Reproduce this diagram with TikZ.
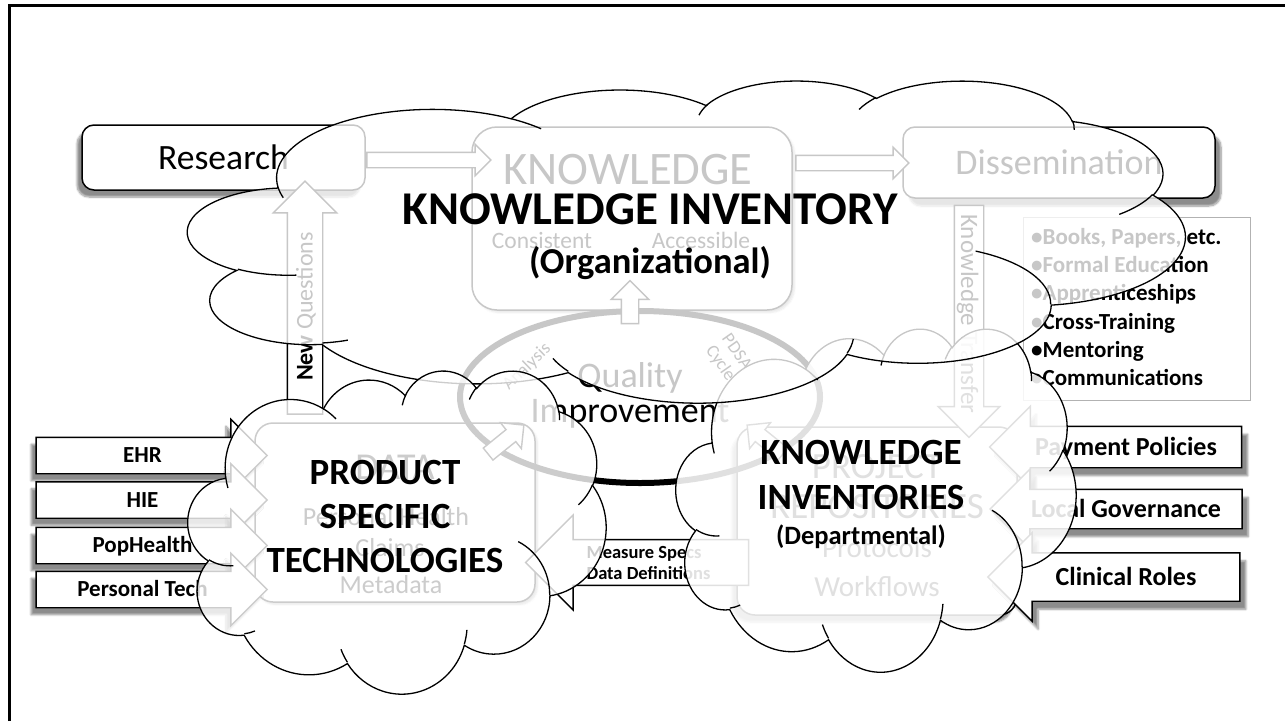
\documentclass[tikz,border=0pt]{standalone}
\usepackage{fontspec}
\setmainfont{Carlito}
\usetikzlibrary{shapes.arrows,shadows.blur}

\newcommand\fsz[2]{\fontsize{#1}{#2}\selectfont}

% one puff of the cloud: x radius, y radius, start angle, sweep (seen angles)
\newcommand\cldarc[4]{%
  \pgfextra{%
    \pgfmathsetmacro\cldS{atan2(#1*sin(#3),#2*cos(#3))}%
    \pgfmathsetmacro\cldE{atan2(#1*sin(#3+#4),#2*cos(#3+#4))}%
    \pgfmathsetmacro\cldE{\cldS+mod(\cldE-(\cldS)+720,360)}%
    \global\let\cldS\cldS\global\let\cldE\cldE}%
  arc[start angle=\cldS, end angle=\cldE, x radius=#1, y radius=#2]}

% cloud outline in a 432 x 432 box
\newcommand\cldoutline{%
  (39,143.7)
  \cldarc{67.53}{91.90}{-190.4875}{123.7805}
  \cldarc{53.33}{72.67}{-144.1024}{89.9452}
  \cldarc{43.65}{59.45}{-145.8079}{99.7230}
  \cldarc{48.57}{65.95}{-130.9861}{117.2417}
  \cldarc{53.33}{72.73}{-78.7089}{109.0269}
  \cldarc{67.75}{92.20}{-46.2673}{130.2690}
  \cldarc{57.85}{78.67}{0.6250}{114.0333}
  \cldarc{67.52}{92.15}{22.4516}{115.1726}
  \cldarc{77.20}{105.43}{66.2426}{75.7110}
  \cldarc{43.60}{59.18}{-274.9421}{146.7356}
  \cldarc{43.45}{59.45}{-246.8285}{152.5189}
  -- cycle}

% the small inner strokes
\newcommand\cldstubs{%
  (46.93,261.77) \cldarc{43.45}{59.45}{86.7420}{26.4295}
  (69.28,348.99) \cldarc{43.60}{59.18}{73.6105}{11.4475}
  (164.78,390.90) \cldarc{67.52}{92.15}{137.6242}{14.0811}
  (288.27,347.51) \cldarc{67.52}{92.15}{6.4533}{15.9984}
  (341.29,229.54) \cldarc{57.85}{78.67}{-70.2924}{70.9174}
  (417.98,153.54) \cldarc{53.33}{72.73}{30.3180}{27.7515}
  (383.24,54.26) \cldarc{48.57}{65.95}{-13.7443}{14.8589}
  (290.78,39.52) \cldarc{48.57}{65.95}{-149.1815}{18.1954}
  (221.41,47.20) \cldarc{43.65}{59.45}{-163.4943}{17.6864}
  (140.00,51.92) \cldarc{67.53}{91.90}{-66.7070}{12.3194}
  (41.27,157.89) \cldarc{67.53}{91.90}{157.6544}{11.8582}}

% name, left, top, width, height, fill opacity
\newcommand\pptcloud[6]{%
  \pgfmathsetmacro\cldw{#4/432}%
  \pgfmathsetmacro\cldh{#5/432}%
  \begin{scope}[xshift=#2pt, yshift=-#3pt, x=\cldw pt, y=-\cldh pt]
    \path[cloudline, fill=white, fill opacity=#6] \cldoutline;
    \path[cloudline] \cldstubs;
    \coordinate (#1) at (216,216);
  \end{scope}}

\begin{document}
\begin{tikzpicture}[x=1pt, y=-1pt,
    cloudline/.style={draw=black, line width=1.3pt},
    roundbox/.style={draw, fill=white, line width=1.5pt, rounded corners=12pt, inner sep=0pt},
    blockarrow/.style={single arrow, draw, fill=white, line width=1.4pt, inner sep=0pt,
                       single arrow head extend=#1},
    shaft/.style 2 args={text height=#1, text depth=#2},
    leftshadow/.style={blur shadow={shadow xshift=-5pt, shadow yshift=-7pt,
                       shadow blur steps=8, shadow opacity=45}},
    rightshadow/.style={blur shadow={shadow xshift=6pt, shadow yshift=-8pt,
                       shadow blur steps=8, shadow opacity=45}}]
  \useasboundingbox (0,0) rectangle (1285,721);

  % boxes of the flow
  \node[roundbox, leftshadow, minimum width=283pt, minimum height=65pt,
        font=\fsz{35.6}{40}] (research) at (223.5,157.5) {Research};
  \node[roundbox, rightshadow, minimum width=312pt, minimum height=71pt,
        font=\fsz{36}{40}] (dissem) at (1059,162.5) {Dissemination};
  \node[roundbox, blur shadow, rounded corners=25pt, minimum width=320pt,
        minimum height=183pt] (knowbox) at (632,218.5) {};
  \node[font=\fsz{46.6}{50}] (knowword) at (628,170) {KNOWLEDGE};
  \node[font=\fsz{23.5}{26}] (consistent) at (542,240) {Consistent};
  \node[font=\fsz{23.5}{26}] (accessible) at (701,240) {Accessible};

  \node[roundbox, blur shadow, rounded corners=18pt, minimum width=280pt,
        minimum height=179pt] (databox) at (395,512.5) {};
  \node[font=\fsz{38}{42}] (dataword) at (395,467) {DATA};
  \node[font=\fsz{26}{30}] (pershealth) at (386,517) {Personal Health};
  \node[font=\fsz{26}{30}] (claims) at (390,548) {Claims};
  \node[font=\fsz{26}{30}] (metadata) at (391,585) {Metadata};

  \node[roundbox, leftshadow, rounded corners=18pt, minimum width=280pt,
        minimum height=188pt] (projbox) at (877,521) {};
  \node[font=\fsz{37}{42}] (projword) at (877,467) {PROJECT};
  \node[font=\fsz{37}{42}] (repword) at (877,507) {REPOSITORIES};
  \node[font=\fsz{29}{32}] (protocols) at (877,548) {Protocols};
  \node[font=\fsz{29}{32}] (workflows) at (877,587) {Workflows};

  \node[draw=gray!60, line width=0.8pt, minimum width=227pt,
        minimum height=183pt] (bulletbox) at (1136.5,308.5) {};
  \foreach \txt [count=\i] in {{Books, Papers, etc.}, Formal Education,
      Apprenticeships, Cross-Training, Mentoring, Communications}
    \node[anchor=base west, inner sep=0pt, font=\fsz{23}{26}\bfseries]
      (bul\i) at (1031,{244.5+28.2*(\i-1)}) {\textbullet\txt};

  % quality circle
  \draw[line width=6pt] (640,397) ellipse [x radius=180, y radius=86];
  \node[font=\fsz{36}{40}] (quality) at (630,378) {Quality};
  \node[font=\fsz{36}{40}] (improve) at (630,414) {Improvement};
  \node[font=\fsz{18}{20}, rotate=44] (analysis) at (527,367) {Analysis};
  \node[font=\fsz{18}{20}, rotate=-55, align=center] (pdsa) at (728,358) {PDSA\\Cycle};

  % block arrows
  \node[blockarrow=8pt, shaft={14pt}{0pt}, minimum height=124pt, minimum width=30pt] (resknow) at (425,160) {};
  \node[blockarrow=8pt, shaft={14pt}{0pt}, minimum height=113pt, minimum width=30pt] (knowdiss) at (848.5,163) {};
  \node[blockarrow=10pt, shaft={16pt}{0pt}, rotate=90, minimum height=43pt, minimum width=36pt] (ringup) at (630,306.5) {};
  \node[blockarrow=9pt, shaft={14pt}{0pt}, rotate=39, minimum height=46pt, minimum width=32pt] (datafeed) at (503,442) {};
  \node[blockarrow=9pt, shaft={14pt}{0pt}, rotate=141, minimum height=46pt, minimum width=32pt] (projfeed) at (768,442) {};
  \node[blockarrow=14pt, shaft={24.6pt}{9.4pt}, rotate=90, minimum height=233pt, minimum width=62pt,
        font=\fsz{24}{28}] (newq) at (305,306.5) {\textbf{New} Questions};
  \node[blockarrow=16pt, shaft={21.9pt}{6.1pt}, rotate=-90, minimum height=232pt, minimum width=60pt,
        font=\fsz{25}{28}] (ktrans) at (969,314) {Knowledge Transfer};

  \foreach \nm/\yy/\lbl in {ehr/455.5/EHR, hie/500/HIE, pophealth/545.5/PopHealth,
      perstech/589.5/Personal Tech}
    \node[blockarrow=18pt, shaft={24.8pt}{10.2pt}, leftshadow, minimum height=231pt,
          minimum width=71pt, font=\fsz{23}{26}\bfseries] (\nm) at (142.5,\yy) {\lbl};

  \node[blockarrow=23pt, inner ysep=4pt, shape border rotate=180, minimum height=223pt,
        minimum width=95pt, align=left, font=\fsz{18.5}{21}\bfseries] (measure)
        at (648.5,562.5) {Measure Specs\\Data Definitions};

  \foreach \nm/\yy/\aw/\th/\td/\lbl in {payment/447/80/28.2pt/11.8pt/Payment Policies,
      localgov/509/78/27.2pt/10.8pt/Local Governance, clinroles/577/87/31.7pt/15.3pt/Clinical Roles}
    \node[blockarrow=20pt, shaft={\th}{\td}, rightshadow, shape border rotate=180,
          minimum height=252pt, minimum width=\aw pt, font=\fsz{26}{30}\bfseries]
          (\nm) at (1126,\yy) {\lbl};

  % the clouds over it all
  \pptcloud{deptcloud}{676}{328}{400}{343}{.88}
  \pptcloud{orgcloud}{188}{80}{997}{322}{.78}
  \pptcloud{prodcloud}{188}{370}{418}{323}{.8}

  \node[font=\fsz{47}{50}\bfseries] (orgtitle) at (650,209) {KNOWLEDGE INVENTORY};
  \node[font=\fsz{36.5}{40}\bfseries] (orgsub) at (650,263) {(Organizational)};
  \node[font=\fsz{37}{44}\bfseries, align=center] (prodtitle) at (385,516)
        {PRODUCT\\SPECIFIC\\TECHNOLOGIES};
  \node[font=\fsz{37}{45}\bfseries, align=center] (depttitle) at (861,475)
        {KNOWLEDGE\\INVENTORIES};
  \node[font=\fsz{26.5}{30}\bfseries] (deptsub) at (861,537) {(Departmental)};

  % frame
  \draw[line width=3pt] (9,721) -- (9,5) -- (1285,5);
\end{tikzpicture}
\end{document}
